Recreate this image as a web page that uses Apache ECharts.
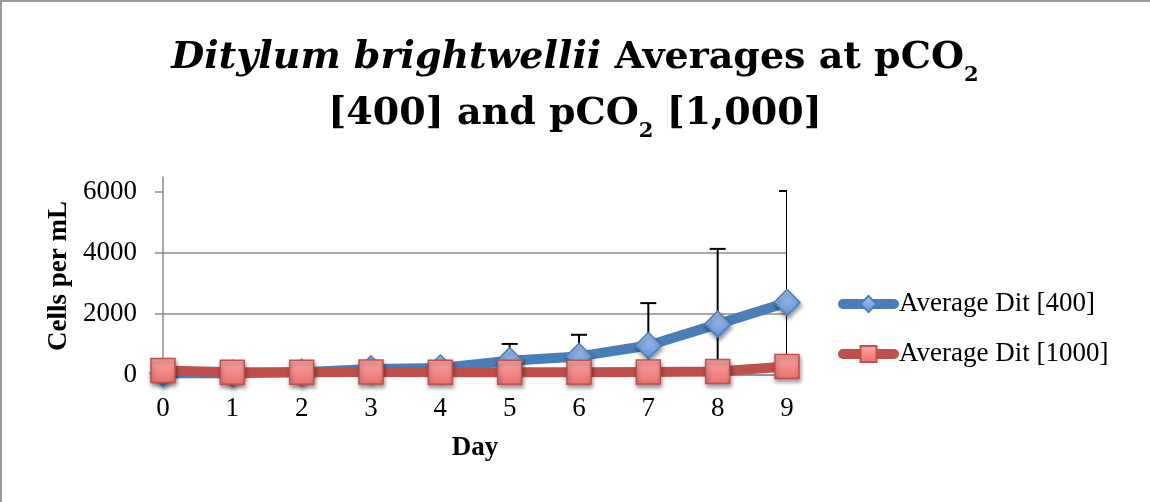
<!DOCTYPE html>
<html>
<head>
<meta charset="utf-8">
<script src="https://cdn.jsdelivr.net/npm/echarts@6/dist/echarts.min.js"></script>
<style>
  html, body { margin: 0; padding: 0; background: #fff; }
  #wrap { position: relative; width: 1150px; height: 502px; overflow: hidden; }
  #chart { position: absolute; left: 0; top: 0; width: 1150px; height: 502px; }
  #frame { position: absolute; left: 0; top: 0; width: 1150px; height: 502px; box-sizing: border-box;
           border-top: 2px solid #9a9a9a; border-left: 2px solid #9a9a9a; pointer-events: none; }
</style>
</head>
<body>
<div id="wrap"><div id="chart"></div><div id="frame"></div></div>
<script>
// ---- data ----
const days = ['0', '1', '2', '3', '4', '5', '6', '7', '8', '9'];
const avg400 = [60, 60, 90, 200, 230, 470, 610, 970, 1670, 2380];
const err400 = [30, 30, 40, 240, 120, 550, 710, 1390, 2470, 3660];
const avg1000 = [150, 92, 92, 100, 88, 92, 92, 95, 118, 280];
const yTicks = [0, 2000, 4000, 6000];
const seriesNames = ['Average Dit [400]', 'Average Dit [1000]'];

const SERIF = '"Liberation Serif", "DejaVu Serif", serif';
const TSERIF = '"DejaVu Serif", "Liberation Serif", serif';
const BLUE = '#4a7ebb';
const RED = '#c0504d';

const chart = echarts.init(document.getElementById('chart'), null, { renderer: 'canvas' });

const errData = days.map((d, i) => [i, avg400[i], err400[i]]);

const option = {
  backgroundColor: '#ffffff',
  animation: false,
  title: {
    text: '{i|Ditylum brightwellii}{b| Averages at pCO}{s|2}\n{b|[400] and pCO}{s|2}{b| [1,000]}',
    left: 'center',
    top: 30,
    padding: 0,
    textStyle: {
      rich: {
        i: { fontFamily: TSERIF, fontSize: 38, fontWeight: 'bold', fontStyle: 'italic', lineHeight: 56, color: '#000' },
        b: { fontFamily: TSERIF, fontSize: 38, fontWeight: 'bold', lineHeight: 56, color: '#000' },
        s: { fontFamily: TSERIF, fontSize: 21, fontWeight: 'bold', lineHeight: 34, verticalAlign: 'bottom', color: '#000' }
      }
    }
  },
  legend: {
    orient: 'vertical',
    left: 838,
    top: 289,
    padding: 0,
    itemWidth: 51,
    itemHeight: 20,
    itemGap: 20,
    data: seriesNames,
    lineStyle: { width: 10, cap: 'round' },
    textStyle: { fontFamily: SERIF, fontSize: 27, color: '#000', lineHeight: 30 }
  },
  grid: { left: 163, right: 363, top: 177, bottom: 127, containLabel: false },
  xAxis: {
    type: 'category',
    data: days,
    boundaryGap: false,
    name: 'Day',
    nameLocation: 'middle',
    nameGap: 60,
    nameTextStyle: { fontFamily: SERIF, fontSize: 27, fontWeight: 'bold', color: '#000' },
    axisLine: { show: true, lineStyle: { color: '#8c8c8c', width: 1.5 } },
    axisTick: { show: false },
    axisLabel: { fontFamily: SERIF, fontSize: 27, color: '#000', margin: 20 },
    splitLine: { show: false }
  },
  yAxis: {
    type: 'value',
    min: 0,
    max: 6500,
    interval: 2000,
    name: 'Cells per mL',
    nameLocation: 'middle',
    nameRotate: 90,
    nameGap: 88,
    nameTextStyle: { fontFamily: SERIF, fontSize: 27, fontWeight: 'bold', color: '#000' },
    axisLine: { show: true, lineStyle: { color: '#8c8c8c', width: 1.5 } },
    axisTick: { show: true, length: 8, customValues: yTicks, lineStyle: { color: '#8c8c8c', width: 1.5 } },
    axisLabel: {
      fontFamily: SERIF, fontSize: 27, color: '#000', margin: 26,
      customValues: yTicks,
      formatter: function (v) { return yTicks.indexOf(v) >= 0 ? String(v) : ''; }
    },
    splitLine: { show: true, showMaxLine: false, lineStyle: { color: '#8c8c8c', width: 1.5 } }
  },
  series: [
    {
      type: 'custom',
      name: 'err',
      z: 1,
      clip: true,
      silent: true,
      encode: { x: 0, y: 1 },
      data: errData,
      renderItem: function (params, api) {
        const i = api.value(0), v = api.value(1), e = api.value(2);
        const top = api.coord([i, v + e]);
        const bot = api.coord([i, v - e]);
        const hw = 8;
        const st = { stroke: '#000', lineWidth: 2 };
        return {
          type: 'group',
          children: [
            { type: 'line', shape: { x1: top[0], y1: top[1], x2: bot[0], y2: bot[1] }, style: st },
            { type: 'line', shape: { x1: top[0] - hw, y1: top[1], x2: top[0] + hw, y2: top[1] }, style: st },
            { type: 'line', shape: { x1: bot[0] - hw, y1: bot[1], x2: bot[0] + hw, y2: bot[1] }, style: st }
          ]
        };
      }
    },
    {
      type: 'line',
      name: seriesNames[0],
      z: 2,
      data: avg400,
      symbol: 'diamond',
      symbolSize: 26,
      lineStyle: { color: BLUE, width: 10, cap: 'round', join: 'round' },
      itemStyle: {
        color: new echarts.graphic.LinearGradient(0, 0, 0, 1, [
          { offset: 0, color: '#a9c8f2' }, { offset: 1, color: '#5f93d8' }
        ]),
        borderColor: BLUE,
        borderWidth: 1.5,
        shadowBlur: 4,
        shadowColor: 'rgba(0,0,0,0.4)',
        shadowOffsetX: 1,
        shadowOffsetY: 3
      },
      emphasis: { disabled: true }
    },
    {
      type: 'line',
      name: seriesNames[1],
      z: 3,
      data: avg1000,
      symbol: 'rect',
      symbolSize: 24,
      lineStyle: { color: RED, width: 10, cap: 'round', join: 'round' },
      itemStyle: {
        color: new echarts.graphic.LinearGradient(0, 0, 0, 1, [
          { offset: 0, color: '#fba9a6' }, { offset: 1, color: '#ea6f6b' }
        ]),
        borderColor: RED,
        borderWidth: 1.5,
        shadowBlur: 4,
        shadowColor: 'rgba(0,0,0,0.4)',
        shadowOffsetX: 1,
        shadowOffsetY: 3
      },
      emphasis: { disabled: true }
    }
  ]
};

chart.setOption(option);
</script>
</body>
</html>
